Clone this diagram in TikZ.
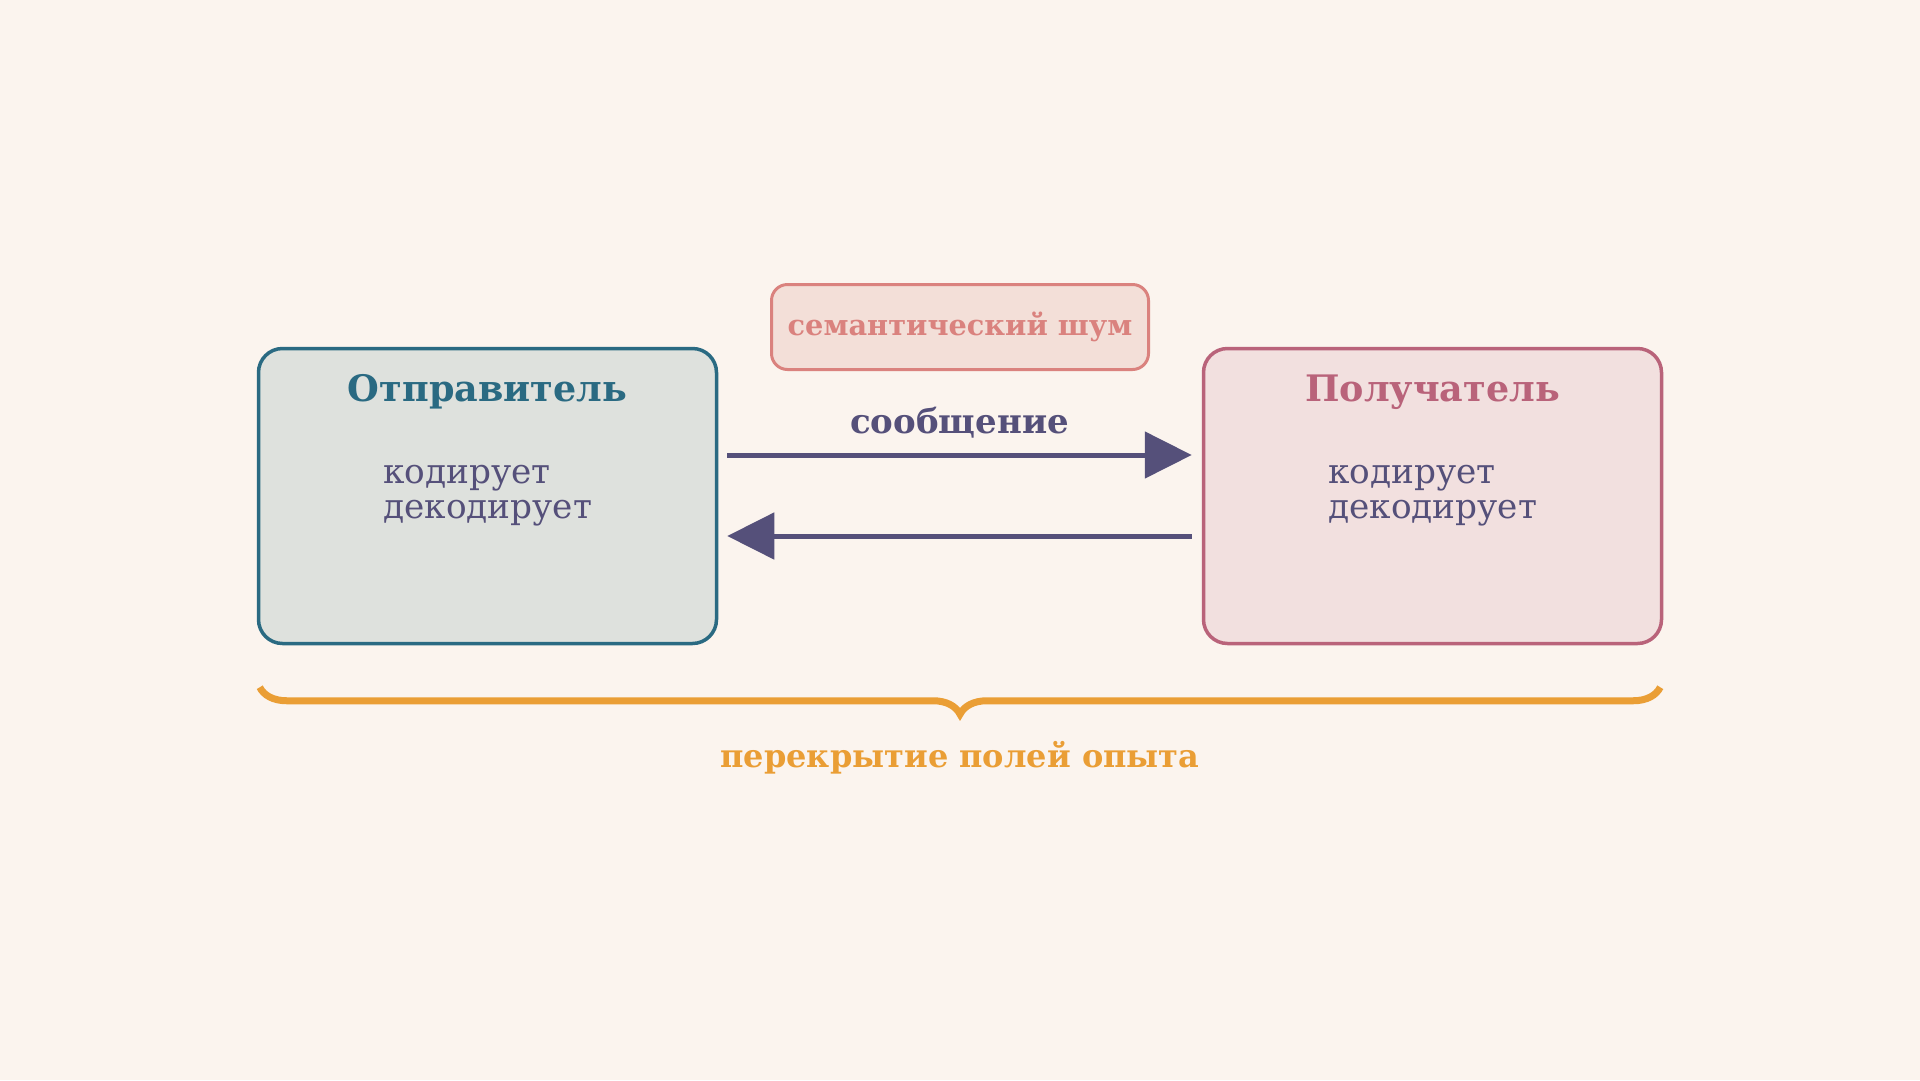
\documentclass[tikz,border=0pt]{standalone}
\usepackage{fontspec}
\setmainfont{DejaVu Serif}
\usetikzlibrary{arrows.meta,decorations.pathreplacing,positioning}
\definecolor{bgcol}{HTML}{FBF4EE}
\definecolor{sndcol}{HTML}{2A6A82}
\definecolor{sndfill}{HTML}{DEE1DD}
\definecolor{rcvcol}{HTML}{B9637A}
\definecolor{rcvfill}{HTML}{F2E0DF}
\definecolor{inkcol}{HTML}{55507A}
\definecolor{noisecol}{HTML}{DA827E}
\definecolor{noisefill}{HTML}{F3DFD8}
\definecolor{bracecol}{HTML}{EA9E35}
\begin{document}
\begin{tikzpicture}[x=1pt,y=-1pt,
    party/.style={rectangle, rounded corners=24pt, line width=3.5pt,
      minimum width=458pt, minimum height=295pt},
    ptitle/.style={anchor=base, font=\bfseries\fontsize{36.5}{40}\selectfont},
    pbody/.style={anchor=north west, align=left, inner sep=0pt, text=inkcol,
      font=\fontsize{34.3}{35}\selectfont},
    flow/.style={line width=5pt, draw=inkcol, -{Triangle[length=47pt,width=46pt]}},
    msglbl/.style={above, fill=bgcol, fill opacity=.7, text opacity=1, text=inkcol,
      inner xsep=6pt, inner ysep=14pt, font=\bfseries\fontsize{34}{40}\selectfont}]
    \useasboundingbox[fill=bgcol] (0,0) rectangle (1920,1080);
    \node[party, draw=sndcol, fill=sndfill] (snd) at (487.5,496) {};
    \node[party, draw=rcvcol, fill=rcvfill] (rcv) at (1432.5,496) {};
    \node[ptitle, text=sndcol] (sndt) at ([yshift=-55pt]snd.north) {Отправитель};
    \node[ptitle, text=rcvcol] (rcvt) at ([yshift=-55pt]rcv.north) {Получатель};
    \node[pbody] (sndb) at (383,465) {кодирует\\декодирует};
    \node[pbody] (rcvb) at (1328,465) {кодирует\\декодирует};
    \node[rectangle, rounded corners=16pt, line width=3pt, draw=noisecol, fill=noisefill,
      minimum width=377pt, minimum height=85pt, text=noisecol,
      font=\bfseries\fontsize{28.8}{34}\selectfont] (noise) at (960,327) {семантический шум};
    \draw[flow] ([shift={(9,-41)}]snd.east) -- node[msglbl] (msg) {сообщение}
      ([shift={(-10,-41)}]rcv.west);
    \draw[flow] ([shift={(-10,40)}]rcv.west) -- ([shift={(9,40)}]snd.east);
    \draw[bracecol, line width=7pt, decorate,
      decoration={brace, mirror, amplitude=27pt}]
      ([shift={(3,42)}]snd.south west) -- ([shift={(-3,42)}]rcv.south east);
    \node[anchor=base, text=bracecol, font=\bfseries\fontsize{32}{38}\selectfont]
      (ovl) at (960,767) {перекрытие полей опыта};
\end{tikzpicture}
\end{document}
